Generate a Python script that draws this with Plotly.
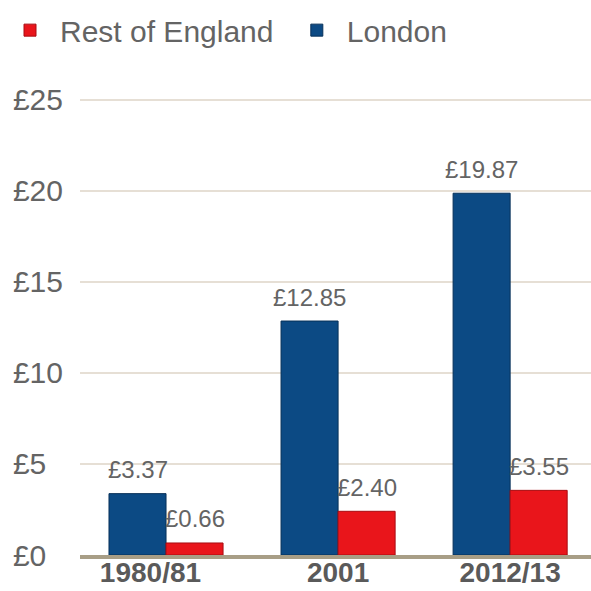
import plotly.graph_objects as go

categories = ["1980/81", "2001", "2012/13"]
category_labels = ["1980/81\u2007\u2007", "2001", "2012/13"]
london = [3.37, 12.85, 19.87]
rest_of_england = [0.66, 2.40, 3.55]
series_names = ["London", "Rest of England"]
y_tick_values = [0, 5, 10, 15, 20, 25]
y_tick_labels = ["£0\u2007", "£5\u2007", "£10", "£15", "£20", "£25"]

BLUE = "#0c4a84"
RED = "#e9151b"
TEXT = "#646464"
FONT = "Liberation Sans"

fig = go.Figure()
fig.add_trace(go.Bar(
    name=series_names[0], x=categories, y=london,
    marker=dict(color=BLUE, line=dict(color="#073159", width=1)),
    legendrank=2,
))
fig.add_trace(go.Bar(
    name=series_names[1] + "\u00a0", x=categories, y=rest_of_england,
    marker=dict(color=RED, line=dict(color="#a80d12", width=1)),
    legendrank=1,
))

bar_offset = 0.1657
annotations = []
for i, v in enumerate(london):
    annotations.append(dict(x=i - bar_offset, y=v, xref="x", yref="y",
                            text=f"£{v:.2f}", showarrow=False,
                            yanchor="middle", yshift=24,
                            font=dict(family=FONT, size=24, color=TEXT)))
for i, v in enumerate(rest_of_england):
    annotations.append(dict(x=i + bar_offset, y=v, xref="x", yref="y",
                            text=f"£{v:.2f}", showarrow=False,
                            yanchor="middle", yshift=24,
                            font=dict(family=FONT, size=24, color=TEXT)))

fig.update_layout(
    width=591, height=591,
    margin=dict(l=80, r=0, t=98, b=36),
    paper_bgcolor="white", plot_bgcolor="white",
    barmode="group", bargap=0.337, bargroupgap=0,
    showlegend=True,
    legend=dict(orientation="h", xref="container", yref="container",
                x=0.0, y=0.993, xanchor="left", yanchor="top",
                font=dict(family=FONT, size=30, color=TEXT),
                itemwidth=50, traceorder="normal"),
    annotations=annotations,
    font=dict(family=FONT, color=TEXT),
)
fig.update_xaxes(
    range=[-0.5, 2.47], showgrid=False, automargin=False,
    tickmode="array", tickvals=categories, ticktext=category_labels,
    showline=True, linecolor="#a89e86", linewidth=4,
    ticks="", tickfont=dict(family=FONT, size=28, color="#5a5a5a", weight="bold"),
    ticklabelstandoff=-11,
)
fig.update_yaxes(
    range=[0, 25.1], tickmode="array", tickvals=y_tick_values, ticktext=y_tick_labels,
    showgrid=True, gridcolor="#e6dfd5", gridwidth=2, zeroline=False, automargin=False,
    ticks="", tickfont=dict(family=FONT, size=30, color=TEXT),
    ticklabelstandoff=16,
)

fig.write_html("out.html", config={"displayModeBar": False},
               post_script="document.body.style.margin='0';")
